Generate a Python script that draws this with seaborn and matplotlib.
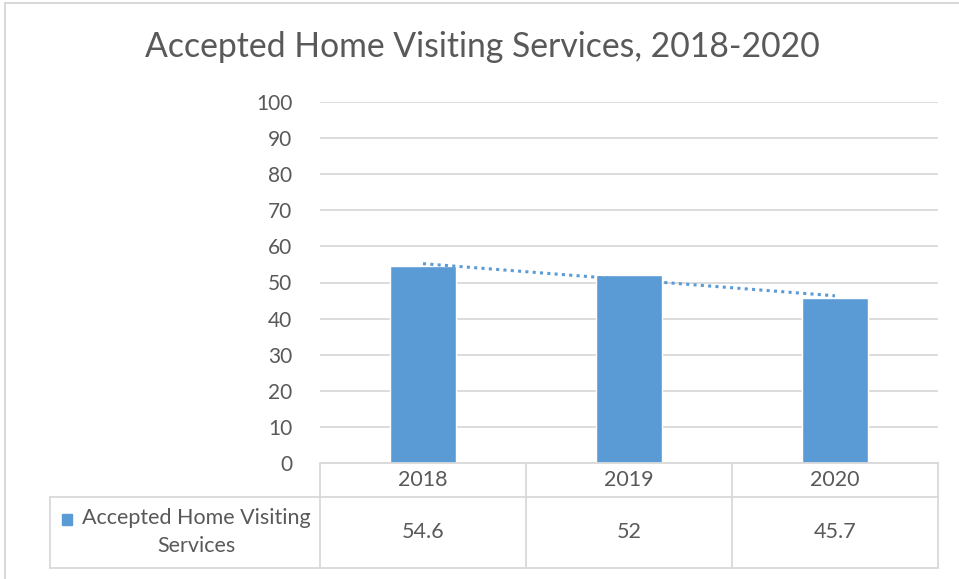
import numpy as np
import pandas as pd
import matplotlib.pyplot as plt
import seaborn as sns
from matplotlib.lines import Line2D
import matplotlib.transforms as mtransforms

# Dados
anos = ['2018', '2019', '2020']
valores = [54.6, 52, 45.7]
serie = 'Accepted Home Visiting Services'
titulo = 'Accepted Home Visiting Services, 2018-2020'

df = pd.DataFrame({'Ano': anos, 'Valor': valores})

sns.set_style('white')
plt.rcParams['font.family'] = ['Lato', 'DejaVu Sans']

azul = '#5B9BD5'
cinza = '#D9D9D9'
texto = '#595959'

fig = plt.figure(figsize=(9.59, 5.79), dpi=100)
ax = fig.add_axes([320/959, 116/579, 618/959, 361/579])

sns.barplot(data=df, x='Ano', y='Valor', color=azul, width=0.32, ax=ax, saturation=1)

# Linha de tendencia (linear)
xs = np.arange(len(valores))
coef = np.polyfit(xs, valores, 1)
ax.plot(xs, np.polyval(coef, xs), linestyle=(0, (1, 1.4)), color=azul, lw=2.2, zorder=3)

ax.set_ylim(0, 100)
ax.set_xlim(-0.5, len(anos) - 0.5)
ax.set_yticks(range(0, 101, 10))
ax.yaxis.grid(True, color=cinza, lw=1.3)
ax.set_axisbelow(True)
for s in ax.spines.values():
    s.set_visible(False)
ax.set_xlabel('')
ax.set_ylabel('')
ax.set_xticks([])
ax.tick_params(axis='y', length=0, pad=20, labelsize=15, labelcolor=texto)

fig.text(0.5 + 3/959, 1 - 47/579, titulo, ha='center', va='center', fontsize=24.3, color=texto)

# Tabela de dados abaixo do grafico
tr = mtransforms.blended_transform_factory(ax.transData, ax.transAxes)
y1, y2 = -34/361, -105/361
xl = -0.5 - 270/206
kw = dict(color=cinza, lw=1.3, clip_on=False, transform=tr)
ax.add_line(Line2D([-0.5, 2.5], [0, 0], **kw))
ax.add_line(Line2D([xl, 2.5], [y1, y1], **kw))
ax.add_line(Line2D([xl, 2.5], [y2, y2], **kw))
ax.add_line(Line2D([xl, xl], [y1, y2], **kw))
for b in [-0.5, 0.5, 1.5, 2.5]:
    ax.add_line(Line2D([b, b], [0, y2], **kw))
for i, a in enumerate(anos):
    ax.text(i, y1 / 2, a, transform=tr, ha='center', va='center', fontsize=15.5, color=texto)
    ax.text(i, (y1 + y2) / 2, f'{valores[i]:g}', transform=tr, ha='center', va='center', fontsize=15.5, color=texto)
ax.text(-0.5 - 124/206, (y1 + y2) / 2, 'Accepted Home Visiting\nServices', transform=tr,
        ha='center', va='center', fontsize=15.5, color=texto, linespacing=1.5)
ax.add_patch(plt.Rectangle((-0.5 - 258/206, -62/361), 10/206, 11/361, transform=tr,
                           color=azul, clip_on=False))

# Borda do grafico
fig.add_artist(Line2D([5/959, 1], [1 - 3/579, 1 - 3/579], color=cinza, lw=1.5))
fig.add_artist(Line2D([5/959, 5/959], [0, 1 - 3/579], color=cinza, lw=1.5))

plt.savefig('out.png', dpi=100)
